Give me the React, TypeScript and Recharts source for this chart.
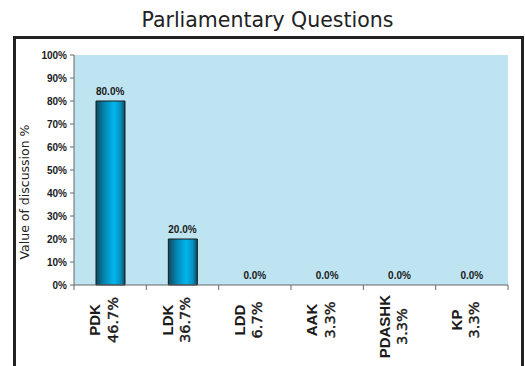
import { ComposedChart, Bar, Line, XAxis, YAxis, CartesianGrid, LabelList, Label } from 'recharts';

const parties = ['PDK', 'LDK', 'LDD', 'AAK', 'PDASHK', 'KP'];
const shares = ['46.7%', '36.7%', '6.7%', '3.3%', '3.3%', '3.3%'];
const discussion = [80, 20, 0, 0, 0, 0];
const yTicks = [0, 10, 20, 30, 40, 50, 60, 70, 80, 90, 100];

const data = parties.map((p, i) => ({ party: p, share: shares[i], value: discussion[i] }));

const NAME_FONT = 'bold 15px "Liberation Sans", Arial, sans-serif';
const SHARE_FONT = '14.5px "DejaVu Sans", sans-serif';

let ctx: CanvasRenderingContext2D | null = null;
function measure(t: string, font: string) {
  if (!ctx) ctx = document.createElement('canvas').getContext('2d');
  if (!ctx) return t.length * 9;
  ctx.font = font;
  return ctx.measureText(t).width;
}

// two-line rotated label, lines centred on each other like the excel original
const PartyTick = (props: any) => {
  const { x, y, payload, index, width } = props;
  const step = width / parties.length;
  const share = shares[index];
  const len = Math.max(measure(payload.value, NAME_FONT), measure(share, SHARE_FONT));
  const c = Math.max(35, 10 + len / 2);
  const left = x - step / 2;
  return (
    <g>
      <line x1={left} y1={y} x2={left} y2={y + 5} stroke="#666" />
      {index === parties.length - 1 && <line x1={x + step / 2} y1={y} x2={x + step / 2} y2={y + 5} stroke="#666" />}
      <text transform={`translate(${x - 10},${y + c}) rotate(-90)`} textAnchor="middle"
        style={{ font: NAME_FONT }} fill="#1a1a1a">{payload.value}</text>
      <text transform={`translate(${x + 7.5},${y + c}) rotate(-90)`} textAnchor="middle"
        style={{ font: SHARE_FONT }} fill="#1a1a1a" stroke="#1a1a1a" strokeWidth={0.4}>{share}</text>
    </g>
  );
};

export default function App() {
  return (
    <div style={{ position: 'absolute', left: 0, top: 0, width: 525, height: 366, background: '#fff', overflow: 'hidden' }}>
      <div style={{ position: 'absolute', top: 8, left: 5, width: 525, textAlign: 'center', font: '20.5px "DejaVu Sans", sans-serif', lineHeight: '24px', color: '#222' }}>
        Parliamentary Questions
      </div>
      <div style={{ position: 'absolute', left: 13, top: 36, width: 511, height: 345, border: '3px solid #222', boxSizing: 'border-box' }} />
      <div style={{ position: 'absolute', left: 0, top: 0 }}>
        <ComposedChart width={525} height={366} data={data} margin={{ top: 55, right: 17, bottom: 0, left: 0 }} barSize={29}>
          <defs>
            <linearGradient id="barFill" x1="0" y1="0" x2="1" y2="0">
              <stop offset="0%" stopColor="#0a4a5e" />
              <stop offset="30%" stopColor="#0788b5" />
              <stop offset="62%" stopColor="#00b6ee" />
              <stop offset="85%" stopColor="#078fbd" />
              <stop offset="100%" stopColor="#0a4a5e" />
            </linearGradient>
          </defs>
          <CartesianGrid fill="#bee4f2" stroke="none" horizontal={false} vertical={false} />
          <XAxis dataKey="party" height={81} interval={0} tickLine={false} tickSize={0} tickMargin={0}
            axisLine={{ stroke: '#666' }} tick={<PartyTick />} />
          <YAxis width={74} domain={[0, 100]} ticks={yTicks} interval={0} tickFormatter={(v) => `${v}%`}
            tickSize={4} tickMargin={3} axisLine={{ stroke: '#666' }} tickLine={{ stroke: '#666' }}
            tick={{ fill: '#1a1a1a', fontSize: 10, fontWeight: 'bold', fontFamily: '"Liberation Sans", Arial, sans-serif' }}>
            <Label content={({ viewBox }: any) => (
              <text transform={`translate(${viewBox.x + 29},${viewBox.y + viewBox.height / 2 + 22}) rotate(-90)`}
                textAnchor="middle" fill="#222" style={{ font: '12.5px "DejaVu Sans", sans-serif' }}>
                Value of discussion %
              </text>
            )} />
          </YAxis>
          <Bar dataKey="value" fill="url(#barFill)" stroke="#1a1a1a" strokeWidth={1} isAnimationActive={false} />
          {/* invisible line only carries the value labels, so the 0% bars get one too */}
          <Line dataKey="value" stroke="none" dot={false} activeDot={false} isAnimationActive={false}>
            <LabelList dataKey="value" position="top" offset={6} formatter={(v: any) => `${Number(v).toFixed(1)}%`}
              style={{ fill: '#1a1a1a', fontSize: 10, fontWeight: 'bold', fontFamily: '"Liberation Sans", Arial, sans-serif' }} />
          </Line>
        </ComposedChart>
      </div>
    </div>
  );
}
